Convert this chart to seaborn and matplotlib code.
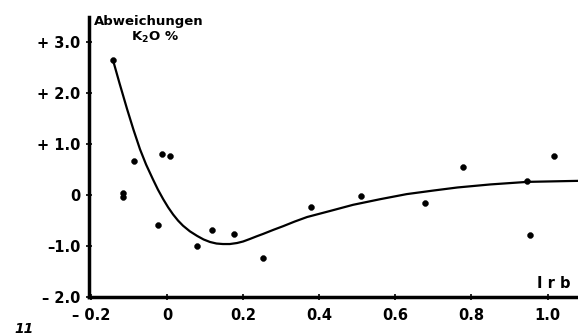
import matplotlib
matplotlib.use("Agg")
import matplotlib.pyplot as plt
import seaborn as sns
import pandas as pd

# measured points
pts_x = [-0.142, -0.115, -0.115, -0.087, -0.013, 0.008, -0.024, 0.079, 0.118, 0.177,
         0.252, 0.379, 0.51, 0.679, 0.779, 0.947, 0.955, 1.018]
pts_y = [2.65, 0.05, -0.03, 0.67, 0.80, 0.76, -0.59, -1.00, -0.69, -0.76,
         -1.24, -0.24, -0.02, -0.16, 0.55, 0.27, -0.78, 0.76]

# fitted curve
curve_x = [-0.142, -0.125, -0.105, -0.088, -0.071, -0.055, -0.037, -0.024, -0.01, 0.003,
           0.016, 0.029, 0.042, 0.06, 0.079, 0.096, 0.113, 0.13, 0.147, 0.165, 0.184,
           0.2, 0.218, 0.235, 0.253, 0.28, 0.305, 0.335, 0.368, 0.429, 0.489, 0.56,
           0.63, 0.7, 0.763, 0.85, 0.947, 1.08]
curve_y = [2.65, 2.2, 1.69, 1.28, 0.9, 0.6, 0.31, 0.11, -0.08, -0.24,
           -0.38, -0.50, -0.60, -0.71, -0.80, -0.87, -0.92, -0.95, -0.96, -0.96, -0.94,
           -0.91, -0.86, -0.81, -0.76, -0.68, -0.61, -0.52, -0.43, -0.31, -0.19, -0.08,
           0.02, 0.09, 0.15, 0.21, 0.26, 0.28]

yticks = [-2, -1, 0, 1, 2, 3]
ytick_labels = ["– 2.0", "–1.0", "0", "+ 1.0", "+ 2.0", "+ 3.0"]
xticks = [-0.2, 0, 0.2, 0.4, 0.6, 0.8, 1.0]
xtick_labels = ["– 0.2", "0", "0.2", "0.4", "0.6", "0.8", "1.0"]

sns.set_theme(style="ticks")
plt.rcParams['font.family'] = ['DejaVu Sans']
plt.rcParams['text.color'] = 'black'
plt.rcParams['xtick.labelcolor'] = 'black'
plt.rcParams['ytick.labelcolor'] = 'black'

fig = plt.figure(figsize=(5.78, 3.36), dpi=100)
ax = fig.add_axes([0.154, 0.116, 0.846, 0.834])

df_c = pd.DataFrame({"x": curve_x, "y": curve_y})
df_p = pd.DataFrame({"x": pts_x, "y": pts_y})
sns.lineplot(data=df_c, x="x", y="y", sort=False, color="black", linewidth=1.6, ax=ax)
sns.scatterplot(data=df_p, x="x", y="y", color="black", s=18, edgecolor="black", ax=ax, zorder=3)

ax.set_xlim(-0.205, 1.08)
ax.set_ylim(-2.0, 3.5)
ax.set_xticks(xticks)
ax.set_xticklabels(xtick_labels, fontsize=10.5, fontweight="bold", color="black")
ax.set_yticks(yticks)
ax.set_yticklabels(ytick_labels, fontsize=10.5, fontweight="bold", color="black")
ax.set_xlabel("")
ax.set_ylabel("")
for s in ["top", "right"]:
    ax.spines[s].set_visible(False)
for s in ["left", "bottom"]:
    ax.spines[s].set_linewidth(2.5)
    ax.spines[s].set_color("black")
ax.tick_params(axis="both", length=4, width=1.2, color="black", direction="inout", pad=4)
ax.tick_params(axis="x", pad=6)

ax.text(0.01, 0.985, "Abweichungen", transform=ax.transAxes, fontsize=9.5,
        fontweight="bold", ha="left", va="center", color="black")
ax.text(0.135, 0.925, "K$_\\mathbf{2}$O %", transform=ax.transAxes, fontsize=9.5,
        fontweight="bold", ha="center", va="center", color="black")
ax.text(0.985, 0.05, "I r b", transform=ax.transAxes, fontsize=10.5,
        fontweight="bold", ha="right", va="center", color="black")
fig.text(0.025, 0.02, "11", fontsize=10, fontweight="bold", style="italic",
         ha="left", va="center", color="black")

fig.savefig("out.png", dpi=100, facecolor="white")
